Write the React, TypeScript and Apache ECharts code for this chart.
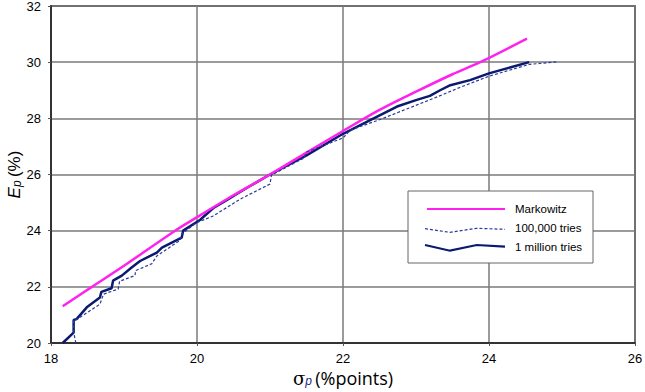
import React, { useEffect, useRef } from "react";
import * as echarts from "echarts";

const markowitzSigma = [18.16, 18.56, 19.0, 19.7, 20.0, 20.5, 21.0, 21.5, 22.0, 22.5, 23.0, 23.5, 23.88, 24.52];
const markowitzE = [21.31, 22.0, 22.75, 24.0, 24.48, 25.26, 26.0, 26.78, 27.55, 28.3, 28.95, 29.57, 30.0, 30.84];

const tries100kSigma = [18.34, 18.31, 18.31, 18.36, 18.44, 18.67, 18.72, 18.92, 18.94, 19.15, 19.16, 19.38, 19.45, 19.77, 19.79, 19.99, 20.22, 20.59, 21.0, 21.02, 21.46, 21.5, 22.0, 22.1, 22.51, 23.19, 23.37, 23.6, 24.0, 24.55, 24.92];
const tries100kE = [20.0, 20.4, 20.82, 20.85, 20.99, 21.38, 21.74, 21.92, 22.2, 22.4, 22.58, 22.82, 23.1, 23.66, 23.88, 24.28, 24.52, 25.12, 25.66, 25.98, 26.58, 26.8, 27.3, 27.58, 27.96, 28.66, 28.85, 29.1, 29.5, 29.92, 30.01];

const tries1mSigma = [18.16, 18.31, 18.31, 18.35, 18.49, 18.67, 18.69, 18.83, 18.85, 18.97, 19.1, 19.22, 19.36, 19.45, 19.52, 19.79, 19.81, 20.04, 20.22, 20.4, 20.68, 21.0, 21.5, 22.0, 22.42, 22.74, 23.0, 23.19, 23.33, 23.47, 23.74, 24.0, 24.3, 24.55];
const tries1mE = [20.0, 20.37, 20.82, 20.85, 21.27, 21.62, 21.82, 21.95, 22.22, 22.4, 22.68, 22.92, 23.1, 23.22, 23.4, 23.75, 24.0, 24.38, 24.8, 25.08, 25.52, 26.0, 26.68, 27.45, 28.0, 28.42, 28.65, 28.8, 29.0, 29.18, 29.36, 29.6, 29.82, 30.0];

const seriesNames = ["Markowitz", "100,000 tries", "1 million tries"];
const xTicks = { min: 18, max: 26, interval: 2 };
const yTicks = { min: 20, max: 32, interval: 2 };

const zip = (xs: number[], ys: number[]) => xs.map((x, i) => [x, ys[i]]);

const FONT = "'Liberation Sans', Arial, sans-serif";

export default function App() {
  const ref = useRef<HTMLDivElement>(null);
  useEffect(() => {
    if (!ref.current) return;
    const chart = echarts.init(ref.current, null, { renderer: "svg" });
    const Z = 100;
    chart.setOption({
      animation: false,
      backgroundColor: "#fff",
      grid: {
        left: 51,
        right: 10,
        top: 6,
        bottom: 49,
        show: true,
        borderColor: "#222",
        borderWidth: 1.5,
        backgroundColor: "transparent",
        containLabel: false,
        outerBoundsMode: "none",
      },
      xAxis: {
        type: "value",
        min: xTicks.min,
        max: xTicks.max,
        interval: xTicks.interval,
        axisLine: { show: true, lineStyle: { color: "#333", width: 2 } },
        axisTick: { show: true, length: 3, lineStyle: { color: "#555" } },
        axisLabel: { color: "#000", fontSize: 13, fontFamily: FONT, margin: 9 },
        splitLine: { show: true, lineStyle: { color: "#7a7a7a", width: 1.5 } },
        name: "{s|σ}{p|p} {n|(%points)}",
        nameLocation: "middle",
        nameGap: 26,
        nameMoveOverlap: false,
        nameTextStyle: {
          rich: {
            s: { fontSize: 18, fontFamily: "'DejaVu Serif', serif", color: "#000" },
            p: { fontSize: 12, fontStyle: "italic", fontFamily: FONT, color: "#1a2a80", verticalAlign: "bottom", padding: [6, 0, 0, 0] },
            n: { fontSize: 18, fontFamily: "'Open Sans', sans-serif", color: "#000" },
          },
        },
      },
      yAxis: {
        type: "value",
        min: yTicks.min,
        max: yTicks.max,
        interval: yTicks.interval,
        axisLine: { show: true, lineStyle: { color: "#333", width: 2 } },
        axisTick: { show: true, length: 3, lineStyle: { color: "#555" } },
        axisLabel: { color: "#000", fontSize: 13, fontFamily: FONT, margin: 10 },
        splitLine: { show: true, lineStyle: { color: "#7a7a7a", width: 1.5 } },
        name: "{e|E}{p|p} {n|(%)}",
        nameLocation: "middle",
        nameRotate: 90,
        nameGap: 28,
        nameMoveOverlap: false,
        nameTextStyle: {
          rich: {
            e: { fontSize: 17, fontStyle: "italic", fontFamily: FONT, color: "#000" },
            p: { fontSize: 12, fontStyle: "italic", fontFamily: FONT, color: "#000", padding: [6, 0, 0, 0] },
            n: { fontSize: 17, fontFamily: FONT, color: "#000" },
          },
        },
      },
      series: [
        {
          name: seriesNames[0],
          type: "line",
          data: zip(markowitzSigma, markowitzE),
          showSymbol: false,
          smooth: 0.3,
          lineStyle: { color: "#ff22ee", width: 2.5 },
          z: 3,
        },
        {
          name: seriesNames[1],
          type: "line",
          data: zip(tries100kSigma, tries100kE),
          showSymbol: false,
          lineStyle: { color: "#2a3a9a", width: 1.2, type: [3, 2] },
          z: 4,
        },
        {
          name: seriesNames[2],
          type: "line",
          data: zip(tries1mSigma, tries1mE),
          showSymbol: false,
          lineStyle: { color: "#0a1a70", width: 2.5 },
          z: 2,
        },
      ],
      graphic: [
        {
          type: "rect",
          z: Z,
          shape: { x: 408, y: 191, width: 185, height: 72 },
          style: { fill: "#fff", stroke: "#666", lineWidth: 1 },
        },
        {
          type: "line",
          z: Z + 1,
          shape: { x1: 427, y1: 209, x2: 505, y2: 209 },
          style: { stroke: "#ff22ee", lineWidth: 2 },
        },
        {
          type: "polyline",
          z: Z + 1,
          shape: { points: [[425, 228.7], [450, 232.3], [476.7, 228.3], [505, 229.3]] },
          style: { stroke: "#2a3a9a", lineWidth: 1.2, lineDash: [3, 2], fill: null },
        },
        {
          type: "polyline",
          z: Z + 1,
          shape: { points: [[425, 245], [450, 250.7], [476.7, 245], [505, 246.7]] },
          style: { stroke: "#0a1a70", lineWidth: 2.2, fill: null },
        },
        {
          type: "text",
          z: Z + 1,
          x: 515,
          y: 209,
          style: { text: seriesNames[0], fill: "#000", font: `11.5px ${FONT}`, verticalAlign: "middle" },
        },
        {
          type: "text",
          z: Z + 1,
          x: 515,
          y: 228,
          style: { text: seriesNames[1], fill: "#000", font: `11.5px ${FONT}`, verticalAlign: "middle" },
        },
        {
          type: "text",
          z: Z + 1,
          x: 515,
          y: 247,
          style: { text: seriesNames[2], fill: "#000", font: `11.5px ${FONT}`, verticalAlign: "middle" },
        },
      ],
    });
    return () => chart.dispose();
  }, []);
  return <div ref={ref} style={{ width: 645, height: 392, position: "absolute", left: 0, top: 0 }} />;
}
